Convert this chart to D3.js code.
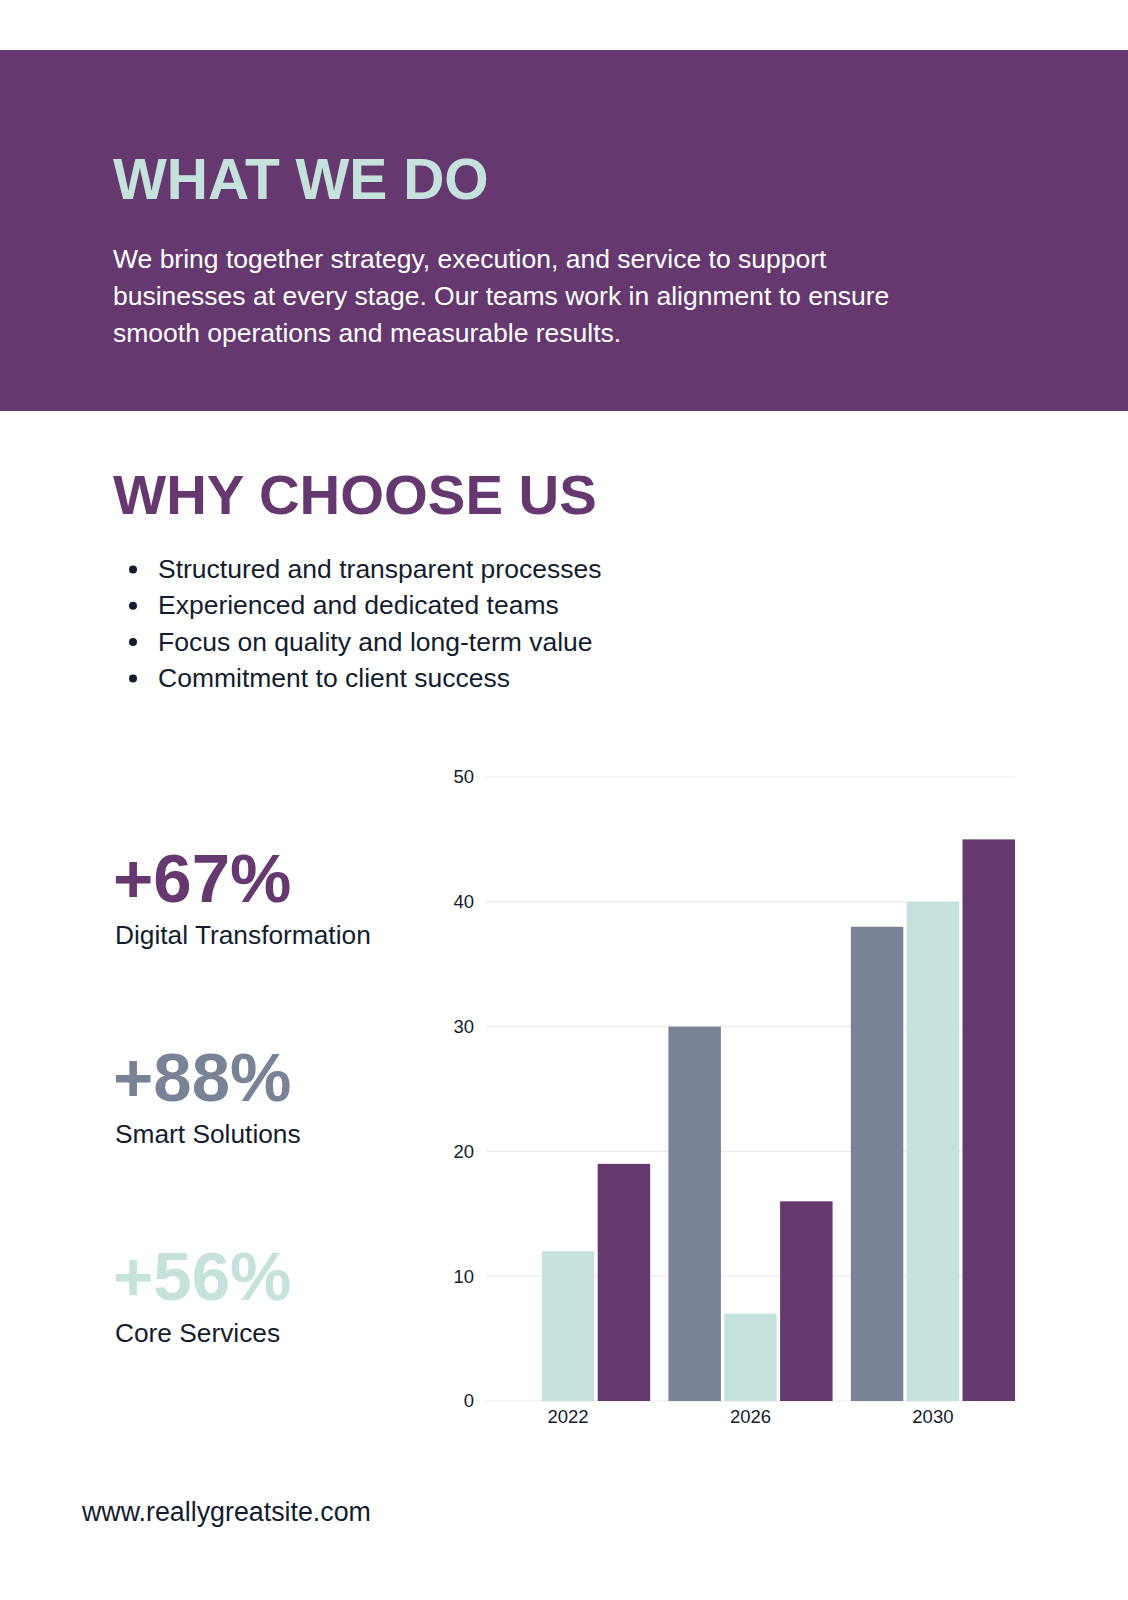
<!DOCTYPE html>
<html>
<head>
<meta charset="utf-8">
<script src="https://cdn.jsdelivr.net/npm/d3@7"></script>
<style>
  html, body { margin: 0; padding: 0; background: #fff; }
  svg { display: block; font-family: "Liberation Sans", Arial, Helvetica, sans-serif; }
</style>
</head>
<body>
<svg id="page" width="1128" height="1600"></svg>
<script>
// Données du graphique
const years = ['2022', '2026', '2030'];
const series = ['Smart Solutions', 'Core Services', 'Digital Transformation'];
const smartValues = [null, 30, 38];
const coreValues = [12, 7, 40];
const digitalValues = [19, 16, 45];
const yTicks = [0, 10, 20, 30, 40, 50];

const introLines = [
  'We bring together strategy, execution, and service to support',
  'businesses at every stage. Our teams work in alignment to ensure',
  'smooth operations and measurable results.'
];
const bullets = [
  'Structured and transparent processes',
  'Experienced and dedicated teams',
  'Focus on quality and long-term value',
  'Commitment to client success'
];
const stats = [
  { value: '+67%', label: 'Digital Transformation' },
  { value: '+88%', label: 'Smart Solutions' },
  { value: '+56%', label: 'Core Services' }
];

const purple = '#663870';
const slate = '#7a8296';
const mint = '#c5e3dc';
const ink = '#141d2e';
const colors = [slate, mint, purple];

const svg = d3.select('#page');

// Bandeau « WHAT WE DO »
svg.append('rect').attr('x', 0).attr('y', 50).attr('width', 1128).attr('height', 361).attr('fill', purple);

svg.append('text')
  .attr('x', 113).attr('y', 199)
  .attr('fill', mint).attr('font-size', 57).attr('font-weight', 700)
  .text('WHAT WE DO');

svg.append('g')
  .selectAll('text')
  .data(introLines)
  .join('text')
  .attr('x', 113)
  .attr('y', (_, i) => 268 + i * 36.8)
  .attr('fill', '#ffffff').attr('font-size', 26.5)
  .text((d) => d);

// « WHY CHOOSE US »
svg.append('text')
  .attr('x', 113).attr('y', 514)
  .attr('fill', purple).attr('font-size', 56.3).attr('font-weight', 700)
  .text('WHY CHOOSE US');

const bulletRows = svg.append('g')
  .selectAll('g')
  .data(bullets)
  .join('g')
  .attr('transform', (_, i) => `translate(0, ${578 + i * 36.3})`);
bulletRows.append('circle').attr('cx', 133).attr('cy', -8.5).attr('r', 4).attr('fill', ink);
bulletRows.append('text').attr('x', 158).attr('fill', ink).attr('font-size', 26.5).text((d) => d);

// Chiffres clés à gauche
const statRows = svg.append('g')
  .selectAll('g')
  .data(stats)
  .join('g')
  .attr('transform', (_, i) => `translate(113, ${902 + i * 199})`);
statRows.append('text')
  .attr('fill', (_, i) => [purple, slate, mint][i])
  .attr('font-size', 69).attr('font-weight', 700)
  .text((d) => d.value);
statRows.append('text')
  .attr('x', 2).attr('y', 42)
  .attr('fill', ink).attr('font-size', 26.3)
  .text((d) => d.label);

// Histogramme groupé
const x0 = d3.scaleBand().domain(years).range([486, 1015]).paddingInner(0.1).paddingOuter(0);
const x1 = d3.scaleBand().domain(series).range([0, x0.bandwidth()]).paddingInner(0.06);
const y = d3.scaleLinear().domain([0, 50]).range([1401, 777]);

const grid = svg.append('g');
grid.selectAll('line')
  .data(yTicks)
  .join('line')
  .attr('x1', 486).attr('x2', 1015)
  .attr('y1', (d) => y(d)).attr('y2', (d) => y(d))
  .attr('stroke', '#ececef').attr('stroke-width', 1.2);

const yAxis = svg.append('g')
  .attr('transform', 'translate(474,0)')
  .call(d3.axisLeft(y).tickValues(yTicks).tickSize(0).tickPadding(0));
yAxis.select('.domain').remove();
yAxis.selectAll('text')
  .attr('font-family', '"Liberation Sans", Arial, sans-serif')
  .attr('font-size', 18.5).attr('fill', ink);

const xAxis = svg.append('g')
  .attr('transform', 'translate(0,1401)')
  .call(d3.axisBottom(x0).tickSize(0).tickPadding(9));
xAxis.select('.domain').remove();
xAxis.selectAll('text')
  .attr('font-family', '"Liberation Sans", Arial, sans-serif')
  .attr('font-size', 18.5).attr('fill', ink);

const table = years.map((year, i) => ({
  year,
  values: [smartValues[i], coreValues[i], digitalValues[i]]
}));

svg.append('g')
  .selectAll('g')
  .data(table)
  .join('g')
  .attr('transform', (d) => `translate(${x0(d.year)},0)`)
  .selectAll('rect')
  .data((d) => d.values.map((v, j) => ({ key: series[j], value: v, color: colors[j] })).filter((d) => d.value != null))
  .join('rect')
  .attr('x', (d) => x1(d.key))
  .attr('width', x1.bandwidth())
  .attr('y', (d) => y(d.value))
  .attr('height', (d) => y(0) - y(d.value))
  .attr('fill', (d) => d.color);

// Pied de page
svg.append('text')
  .attr('x', 82).attr('y', 1521)
  .attr('fill', ink).attr('font-size', 26.8)
  .text('www.reallygreatsite.com');
</script>
</body>
</html>
